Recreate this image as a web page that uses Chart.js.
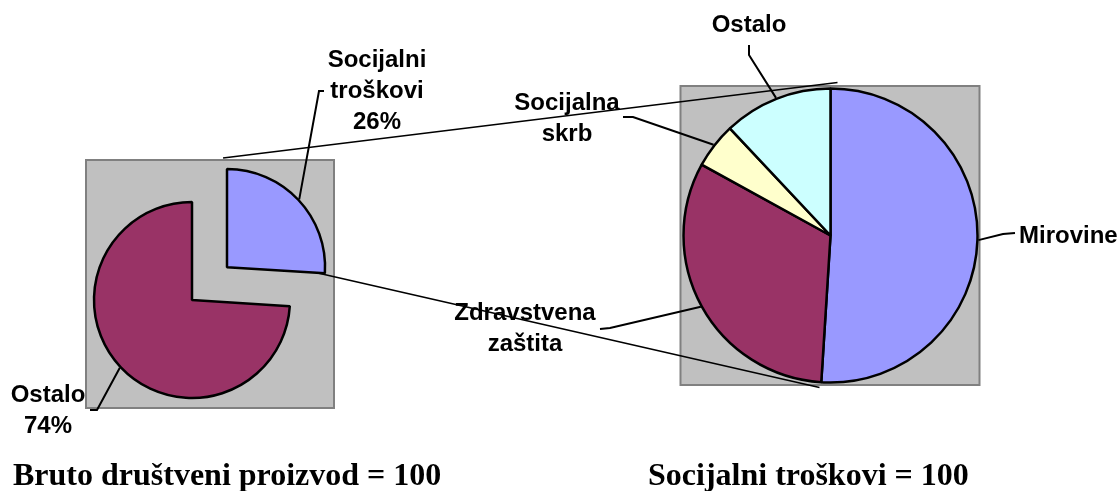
<!DOCTYPE html>
<html>
<head>
<meta charset="utf-8">
<script src="https://cdn.jsdelivr.net/npm/chart.js@4.4.1/dist/chart.umd.min.js"></script>
<style>
  body { margin: 0; background: #fff; }
  #wrap { position: relative; width: 1120px; height: 491px; }
  #wrap canvas { position: absolute; left: 0; top: 0; }
</style>
</head>
<body>
<div id="wrap">
  <canvas id="gdpChart" width="1120" height="491"></canvas>
  <canvas id="socChart" width="1120" height="491"></canvas>
</div>
<script>
// data
const gdpLabels = ['Socijalni troškovi', 'Ostalo'];
const gdpValues = [26, 74];
const socLabels = ['Mirovine', 'Zdravstvena zaštita', 'Socijalna skrb', 'Ostalo'];
const socValues = [51, 32, 5, 12];
const gdpTitle = 'Bruto društveni proizvod = 100';
const socTitle = 'Socijalni troškovi = 100';

// styles
const gdpColors = ['#9999FF', '#993366'];
const socColors = ['#9999FF', '#993366', '#FFFFCC', '#CCFFFF'];
const LABEL_FONT = 'bold 24px "Liberation Sans", Arial, sans-serif';
const TITLE_FONT = 'bold 32px "Liberation Serif", "Times New Roman", serif';
const LINE_H = 31;
const EXPLODE = 48; // px the social cost slice is pulled out

// label layout: text anchor, leader elbow and tick end
const gdpLabelPos = [
  { x: 377, y: 67, align: 'center', elbow: [319, 91], tick: [324, 91] },
  { x: 48, y: 402, align: 'center', elbow: [97, 410], tick: [90, 410] }
];
const socLabelPos = [
  { x: 1019, y: 243, align: 'left', elbow: [1003, 234], tick: [1015, 233] },
  { x: 525, y: 320, align: 'center', elbow: [610, 328], tick: [600, 329] },
  { x: 567, y: 110, align: 'center', elbow: [633, 117], tick: [623, 117] },
  { x: 749, y: 32, align: 'center', elbow: [749, 55], tick: [749, 45] }
];

// where the slice is really drawn (chart.js shifts exploded arcs by offset/4 * (1 + fix))
function sliceCenter(arc) {
  const mid = (arc.startAngle + arc.endAngle) / 2;
  const circ = arc.endAngle - arc.startAngle;
  const off = (arc.options.offset || 0) / 4;
  const t = off * (2 - Math.sin(Math.min(Math.PI, circ)));
  return { x: arc.x + Math.cos(mid) * t, y: arc.y + Math.sin(mid) * t, mid: mid };
}

function decor(box, names, values, showPct, pos, title, titleX) {
  return {
    id: 'decor',
    beforeDatasetsDraw(chart) {
      const arc = chart.getDatasetMeta(0).data[0];
      const ctx = chart.ctx;
      ctx.save();
      ctx.fillStyle = '#C0C0C0';
      ctx.strokeStyle = '#808080';
      ctx.lineWidth = 2;
      ctx.fillRect(arc.x + box[0], arc.y + box[1], box[2], box[3]);
      ctx.strokeRect(arc.x + box[0], arc.y + box[1], box[2], box[3]);
      ctx.restore();
    },
    afterDatasetsDraw(chart) {
      const ctx = chart.ctx;
      const arcs = chart.getDatasetMeta(0).data;
      ctx.save();
      ctx.strokeStyle = '#000';
      ctx.lineWidth = 2;
      arcs.forEach((arc, i) => {
        const c = sliceCenter(arc);
        const r = arc.outerRadius + 1;
        const p = pos[i];
        ctx.beginPath();
        ctx.moveTo(c.x + Math.cos(c.mid) * r, c.y + Math.sin(c.mid) * r);
        ctx.lineTo(p.elbow[0], p.elbow[1]);
        ctx.lineTo(p.tick[0], p.tick[1]);
        ctx.stroke();

        const lines = names[i].split(' ');
        if (showPct) lines.push(values[i] + '%');
        ctx.font = LABEL_FONT;
        ctx.fillStyle = '#000';
        ctx.textAlign = p.align;
        ctx.textBaseline = 'alphabetic';
        lines.forEach((t, k) => ctx.fillText(t, p.x, p.y + k * LINE_H));
      });
      ctx.font = TITLE_FONT;
      ctx.textAlign = 'left';
      ctx.fillText(title, titleX, 485);
      ctx.restore();
    }
  };
}

function baseOptions(padding, radius) {
  return {
    responsive: false,
    animation: false,
    radius: radius,
    layout: { padding: padding },
    plugins: { legend: { display: false }, tooltip: { enabled: false } }
  };
}

const gdpChart = new Chart(document.getElementById('gdpChart'), {
  type: 'pie',
  data: {
    labels: gdpLabels,
    datasets: [{
      data: gdpValues,
      backgroundColor: gdpColors,
      borderColor: '#000',
      borderWidth: 2.5,
      offset: [EXPLODE * 4, 0]
    }]
  },
  options: baseOptions({ left: 92, right: 828, top: 200, bottom: 91 }, 98),
  plugins: [decor([-106, -140, 248, 248], gdpLabels, gdpValues, true, gdpLabelPos, gdpTitle, 13)]
});

// lines joining the exploded slice to the second pie
const connectors = {
  id: 'connectors',
  beforeDatasetsDraw(chart) {
    const blue = gdpChart.getDatasetMeta(0).data[0];
    const bc = sliceCenter(blue);
    const br = blue.outerRadius;
    const right = chart.getDatasetMeta(0).data[0];
    const rr = right.outerRadius;
    const ctx = chart.ctx;
    ctx.save();
    ctx.strokeStyle = '#000';
    ctx.lineWidth = 1.6;
    ctx.beginPath();
    ctx.moveTo(bc.x - 4, bc.y - br - 11);
    ctx.lineTo(right.x + 7, right.y - rr - 6);
    ctx.moveTo(bc.x + Math.cos(blue.endAngle) * br - 6, bc.y + Math.sin(blue.endAngle) * br);
    ctx.lineTo(right.x - 11, right.y + rr + 5);
    ctx.stroke();
    ctx.restore();
  }
};

new Chart(document.getElementById('socChart'), {
  type: 'pie',
  data: {
    labels: socLabels,
    datasets: [{
      data: socValues,
      backgroundColor: socColors,
      borderColor: '#000',
      borderWidth: 2.5
    }]
  },
  options: baseOptions({ left: 681, right: 140, top: 86, bottom: 106 }, 147),
  plugins: [decor([-150, -149.5, 299, 299], socLabels, socValues, false, socLabelPos, socTitle, 648), connectors]
});
</script>
</body>
</html>
